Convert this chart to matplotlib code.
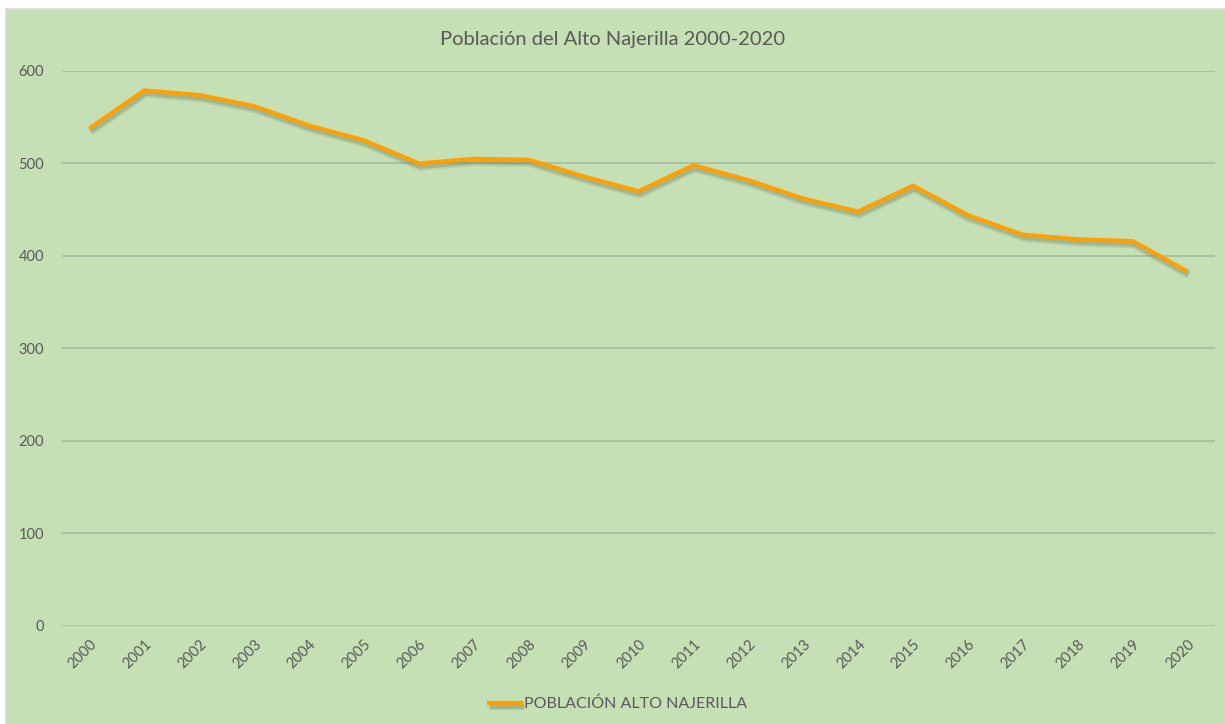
import matplotlib
matplotlib.use("Agg")
import matplotlib.pyplot as plt
import matplotlib.patheffects as pe
from matplotlib.patches import Rectangle

years = [str(y) for y in range(2000, 2021)]
poblacion = [538, 579, 574, 562, 541, 525, 500, 505, 504, 486, 470,
             498, 482, 462, 448, 476, 444, 423, 418, 416, 383]
y_ticks = [0, 100, 200, 300, 400, 500, 600]

bg = "#C5E0B4"
txt = "#595959"
plt.rcParams['font.family'] = ['Lato', 'DejaVu Sans']

fig = plt.figure(figsize=(12.25, 7.24), dpi=100)
fig.patch.set_facecolor("white")
# chart area (light green box with thin grey edge)
fig.patches.append(Rectangle((6 / 1225, -0.01), 1.02, 1 - 9 / 724 + 0.01,
                             transform=fig.transFigure, facecolor=bg,
                             edgecolor="#D9D9D9", linewidth=1.2, zorder=-10))

ax = fig.add_axes([62 / 1225, 1 - 625.7 / 724, (1215 - 62) / 1225, (625.7 - 71) / 724])
ax.patch.set_alpha(0)

x = list(range(len(years)))
# soft drop shadow under the line, like the Excel effect
shadow = [pe.SimpleLineShadow(offset=(0.8, -2.2), shadow_color="#6E7F66", alpha=0.18, linewidth=6),
          pe.SimpleLineShadow(offset=(0.8, -2.2), shadow_color="#6E7F66", alpha=0.3, linewidth=3.5),
          pe.Normal()]
ax.plot(x, poblacion, color="#FFA000", linewidth=3.0, solid_capstyle="butt",
        label="POBLACIÓN ALTO NAJERILLA", path_effects=shadow)

ax.set_xlim(-0.5, len(years) - 0.5)
ax.set_ylim(0, 600)
ax.set_yticks(y_ticks)
ax.set_xticks(x)
ax.set_xticklabels(years, rotation=45, ha="right", rotation_mode="anchor")
ax.tick_params(axis="both", length=0, labelsize=10.5, labelcolor=txt)
ax.tick_params(axis="y", pad=13)
ax.tick_params(axis="x", pad=8)
ax.grid(axis="y", color="#A6BC9D", linewidth=1.2)
ax.set_axisbelow(True)
for s in ax.spines.values():
    s.set_visible(False)

fig.text(0.5, 1 - 40 / 724, "Población del Alto Najerilla 2000-2020", ha="center",
         va="center", fontsize=14.5, color=txt)

leg = fig.legend(loc="center", bbox_to_anchor=(0.504, 1 - 704 / 724), frameon=False,
                 fontsize=11.5, handlelength=2.2, handletextpad=0.1)
for t in leg.get_texts():
    t.set_color(txt)

fig.savefig("out.png", dpi=100, facecolor=fig.get_facecolor())
